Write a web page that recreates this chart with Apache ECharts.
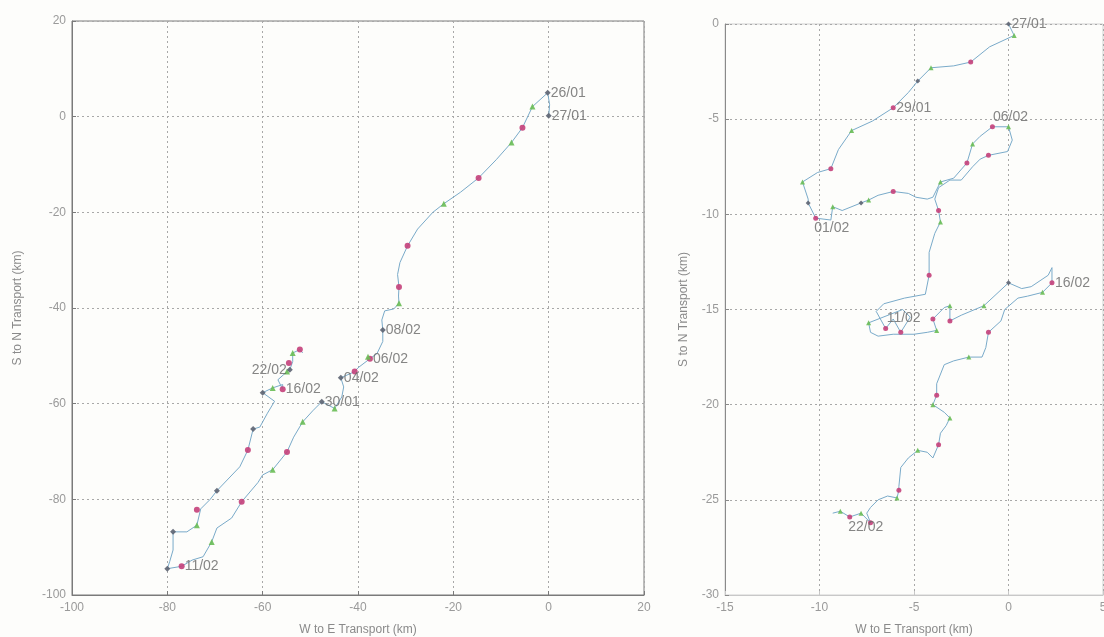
<!DOCTYPE html>
<html>
<head>
<meta charset="utf-8">
<script src="https://cdn.jsdelivr.net/npm/echarts@6/dist/echarts.min.js"></script>
<style>
html,body{margin:0;padding:0;background:#fdfdfb;}
#c{width:1104px;height:637px;}
</style>
</head>
<body>
<div id="c"></div>
<script>
// ---------- Left panel (km) ----------
const leftTicksX = [-100, -80, -60, -40, -20, 0, 20];
const leftTicksY = [-100, -80, -60, -40, -20, 0, 20];
const leftPath = [
  [0,0],[0.2,2.5],[-0.2,5.0],[-3.4,2.1],[-5.5,-2.3],[-7.8,-5.4],[-11,-9],[-14.7,-12.8],
  [-18.5,-15.8],[-22,-18.2],[-24.3,-20],[-27.5,-23.5],[-29.6,-27],[-31.2,-30.5],[-31.7,-33],
  [-31.4,-35.6],[-31.5,-37.5],[-31.4,-39],[-32.5,-40.2],[-34.4,-40.6],[-35,-42.5],[-34.8,-44.6],
  [-34.8,-47],[-36,-49.5],[-37.5,-50.6],[-40,-52.5],[-40.7,-53.3],[-43.6,-54.6],[-43,-56.5],
  [-43.4,-58.6],[-44.9,-61],[-47.6,-59.6],[-49.5,-61.5],[-51.6,-63.8],[-53.5,-67],[-54.9,-70.1],
  [-57.9,-73.8],[-60,-74.9],[-61,-76.5],[-64.4,-80.5],[-66.5,-83.9],[-69.6,-86],[-70.7,-88.9],
  [-72.5,-92],[-74.8,-92.7],[-77,-94],[-80,-94.5],[-79.5,-93],[-78.8,-90.6],[-78.8,-86.8],
  [-75.9,-86.8],[-73.8,-85.4],[-73,-82],[-71,-80],[-69.6,-78.2],[-64.8,-73.2],[-63.1,-69.7],
  [-62,-65.3],[-60.6,-64.9],[-59,-62],[-57.5,-59.5],[-60,-57.7],[-57.9,-56.7],[-55.8,-56],
  [-55.8,-57],[-56.8,-55],[-54.9,-53.3],[-54.3,-52.9],[-53.7,-51.2],[-53.7,-49.4],[-52.2,-48.7],
  [-51.6,-49.4]
];
const leftRed = [[-5.5,-2.3],[-14.7,-12.8],[-29.6,-27],[-31.4,-35.6],[-37.5,-50.6],[-40.7,-53.3],
  [-54.9,-70.1],[-64.4,-80.5],[-63.1,-69.7],[-73.8,-82.2],[-77,-94],[-55.8,-57],[-52.2,-48.7],[-54.5,-51.5]];
const leftGreen = [[-3.4,2.1],[-7.8,-5.4],[-22,-18.2],[-31.4,-39],[-37.9,-50.2],[-44.9,-61],
  [-51.6,-63.8],[-57.9,-73.8],[-70.7,-88.9],[-73.8,-85.4],[-57.9,-56.7],[-54.9,-53.3],[-53.7,-49.4]];
const leftDark = [[-0.2,5.0],[0,0.2],[-34.8,-44.6],[-43.6,-54.6],[-47.6,-59.6],[-62,-65.3],
  [-69.6,-78.2],[-78.8,-86.8],[-80,-94.5],[-60,-57.7],[-54.3,-52.9]];
const leftLabels = [
  [-0.2,5.0,'26/01','right'],[0,0.2,'27/01','right'],[-34.8,-44.6,'08/02','right'],
  [-37.5,-50.6,'06/02','right'],[-43.6,-54.6,'04/02','right'],[-47.6,-59.6,'30/01','right'],
  [-55.8,-57,'16/02','right'],[-54.3,-52.9,'22/02','left'],[-77,-94,'11/02','right']
];

// ---------- Right panel (km) ----------
const rightTicksX = [-15, -10, -5, 0, 5];
const rightTicksY = [-30, -25, -20, -15, -10, -5, 0];
const rightPath = [
  [0,0],[0.3,-0.6],[-1.0,-1.2],[-2.0,-2.0],[-2.9,-2.2],[-4.1,-2.3],[-4.8,-3.0],[-5.3,-3.6],
  [-6.1,-4.4],[-7.2,-5.1],[-8.3,-5.6],[-9.0,-6.6],[-9.4,-7.6],[-10.1,-7.8],[-10.9,-8.3],
  [-10.6,-9.2],[-10.6,-9.4],[-10.2,-10.2],[-9.4,-10.3],[-9.3,-9.6],[-8.8,-9.8],[-7.8,-9.4],
  [-7.4,-9.25],[-6.9,-9.0],[-6.1,-8.8],[-5.3,-8.9],[-4.9,-9.1],[-4.3,-9.2],[-4.0,-9.1],
  [-3.6,-8.3],[-2.9,-8.1],[-2.2,-7.3],[-1.9,-6.3],[-1.5,-5.9],[-0.85,-5.4],[0,-5.4],
  [0.2,-6.1],[-0.05,-6.7],[-1.06,-6.9],[-1.5,-7.1],[-1.9,-7.5],[-2.5,-8.2],[-3.1,-8.2],
  [-3.7,-8.6],[-3.9,-9.2],[-3.7,-9.8],[-3.6,-10.4],[-3.9,-11],[-4.2,-12],[-4.2,-13.2],
  [-4.4,-14.2],[-5.5,-14.4],[-6.6,-14.7],[-7.0,-15.1],[-6.5,-16.0],[-6.1,-15.5],[-5.7,-16.2],
  [-5.2,-15.4],[-5.6,-15.0],[-7.4,-15.7],[-7.3,-16.2],[-6.9,-16.4],[-6.1,-16.3],[-5.0,-16.3],
  [-4.3,-16.2],[-3.8,-16.1],[-4.0,-15.5],[-3.4,-14.9],[-3.1,-14.8],[-3.1,-15.6],[-2.5,-15.3],
  [-1.3,-14.8],[0,-13.6],[0.7,-13.9],[1.2,-13.8],[2.1,-13.2],[2.3,-12.8],[2.3,-13.6],
  [1.8,-14.1],[1.0,-14.3],[0.5,-14.4],[-0.2,-15.0],[-0.4,-15.6],[-1.06,-16.2],[-1.2,-17.0],
  [-1.4,-17.5],[-2.1,-17.5],[-2.9,-17.7],[-3.4,-17.9],[-3.8,-18.9],[-3.8,-19.5],[-4.0,-20.0],
  [-3.4,-20.4],[-3.1,-20.7],[-3.3,-21.1],[-3.6,-21.5],[-3.7,-22.1],[-4.0,-22.8],[-4.3,-22.5],
  [-4.8,-22.4],[-5.3,-22.8],[-5.7,-23.3],[-5.8,-24.3],[-5.8,-24.5],[-5.9,-24.9],[-6.4,-24.8],
  [-6.9,-25.0],[-7.3,-25.4],[-7.5,-25.7],[-7.3,-26.2],[-7.8,-25.7],[-8.4,-25.9],[-8.9,-25.6],
  [-9.3,-25.7]
];
const rightRed = [[-2.0,-2.0],[-6.1,-4.4],[-9.4,-7.6],[-10.2,-10.2],[-6.1,-8.8],[-2.2,-7.3],
  [-0.85,-5.4],[-1.06,-6.9],[-3.7,-9.8],[-4.2,-13.2],[-6.5,-16.0],[-5.7,-16.2],[-4.0,-15.5],
  [-3.1,-15.6],[2.3,-13.6],[-1.06,-16.2],[-3.8,-19.5],[-3.7,-22.1],[-5.8,-24.5],[-7.3,-26.2],[-8.4,-25.9]];
const rightGreen = [[0.3,-0.6],[-4.1,-2.3],[-8.3,-5.6],[-10.9,-8.3],[-9.3,-9.6],[-7.4,-9.25],
  [-3.6,-8.3],[-1.9,-6.3],[0,-5.4],[-3.6,-10.4],[-7.4,-15.7],[-3.8,-16.1],[-3.1,-14.8],
  [-1.3,-14.8],[1.8,-14.1],[-2.1,-17.5],[-4.0,-20.0],[-3.1,-20.7],[-4.8,-22.4],[-5.9,-24.9],
  [-7.8,-25.7],[-8.9,-25.6]];
const rightDark = [[0,0],[-10.6,-9.4],[-7.8,-9.4],[0,-13.6],[-4.8,-3.0]];
const rightLabels = [
  [0,0,'27/01','right'],[-6.1,-4.4,'29/01','right'],[-10.2,-10.2,'01/02','bottom'],
  [-0.85,-5.4,'06/02','top'],[2.3,-13.6,'16/02','right'],[-6.5,-16.0,'11/02','top'],
  [-8.4,-25.9,'22/02','bottom']
];

const axisNameX = 'W to E Transport (km)';
const axisNameY = 'S to N Transport (km)';

const FONT = 'Liberation Sans, Arial, sans-serif';
const tickColor = '#9a9a9a';
const gridLine = {show:true, lineStyle:{color:'#a8a8a8', type:[2,3], width:1}};

function xAxis(gi, ticks, interval, axisColor){
  return {
    type:'value', gridIndex:gi, min:ticks[0], max:ticks[ticks.length-1], interval:interval,
    name:axisNameX, nameLocation:'middle', nameGap:29,
    nameTextStyle:{color:'#8a8a8a', fontSize:12, fontFamily:FONT},
    axisLine:{show:true, onZero:false, lineStyle:{color:axisColor, width:1}},
    axisTick:{show:true, inside:true, length:4, lineStyle:{color:axisColor}},
    axisLabel:{color:tickColor, fontSize:12, fontFamily:FONT, margin:7, showMaxLabel:true, showMinLabel:true},
    splitLine:gridLine
  };
}
function yAxis(gi, ticks, interval, gap, axisColor){
  return {
    type:'value', gridIndex:gi, min:ticks[0], max:ticks[ticks.length-1], interval:interval,
    name:axisNameY, nameLocation:'middle', nameGap:gap, nameRotate:90,
    nameTextStyle:{color:'#8a8a8a', fontSize:12, fontFamily:FONT},
    axisLine:{show:true, onZero:false, lineStyle:{color:axisColor, width:1}},
    axisTick:{show:true, inside:true, length:4, lineStyle:{color:axisColor}},
    axisLabel:{color:tickColor, fontSize:12, fontFamily:FONT, margin:6, showMaxLabel:true, showMinLabel:true},
    splitLine:gridLine
  };
}

function markerSeries(xi, data, color, symbol, size){
  return {type:'scatter', xAxisIndex:xi, yAxisIndex:xi, data:data, symbol:symbol,
    symbolSize:size, itemStyle:{color:color, opacity:0.9}, z:4, silent:true};
}
function labelSeries(xi, labels){
  return {type:'scatter', xAxisIndex:xi, yAxisIndex:xi, symbolSize:0, z:5, silent:true,
    data: labels.map(l => ({value:[l[0], l[1]], label:{show:true, formatter:l[2], position:l[3],
      distance:3, color:'#666', fontSize:14, fontFamily:FONT,
      offset: l[3]==='bottom' ? [16,0] : (l[3]==='top' ? [18,0] : [0,0])}}))
  };
}
function pathSeries(xi, data){
  return {type:'line', xAxisIndex:xi, yAxisIndex:xi, data:data, showSymbol:false,
    symbol:'none', lineStyle:{color:'#79aac9', width:1}, z:3, silent:true};
}

const chart = echarts.init(document.getElementById('c'), null, {renderer:'canvas'});
chart.setOption({
  backgroundColor:'#fdfdfb',
  animation:false,
  grid:[
    {left:72, top:21, width:572, height:574, outerBoundsMode:'none', containLabel:false,
     show:true, borderColor:'#7a7a7a', borderWidth:1, backgroundColor:'transparent'},
    {left:725, top:24, width:378, height:571, outerBoundsMode:'none', containLabel:false,
     show:true, borderColor:'#d0d0d0', borderWidth:1, backgroundColor:'transparent'}
  ],
  xAxis:[ xAxis(0, leftTicksX, 20, '#7a7a7a'), xAxis(1, rightTicksX, 5, '#c8c8c8') ],
  yAxis:[ yAxis(0, leftTicksY, 20, 48, '#7a7a7a'), yAxis(1, rightTicksY, 5, 35, '#8a8a8a') ],
  series:[
    pathSeries(0, leftPath),
    markerSeries(0, leftRed, '#c4407a', 'circle', 6),
    markerSeries(0, leftGreen, '#69bd55', 'triangle', 6),
    markerSeries(0, leftDark, '#5d6472', 'diamond', 6),
    labelSeries(0, leftLabels),
    pathSeries(1, rightPath),
    markerSeries(1, rightRed, '#c4407a', 'circle', 5),
    markerSeries(1, rightGreen, '#69bd55', 'triangle', 5),
    markerSeries(1, rightDark, '#5d6472', 'diamond', 5),
    labelSeries(1, rightLabels)
  ]
});
</script>
</body>
</html>
